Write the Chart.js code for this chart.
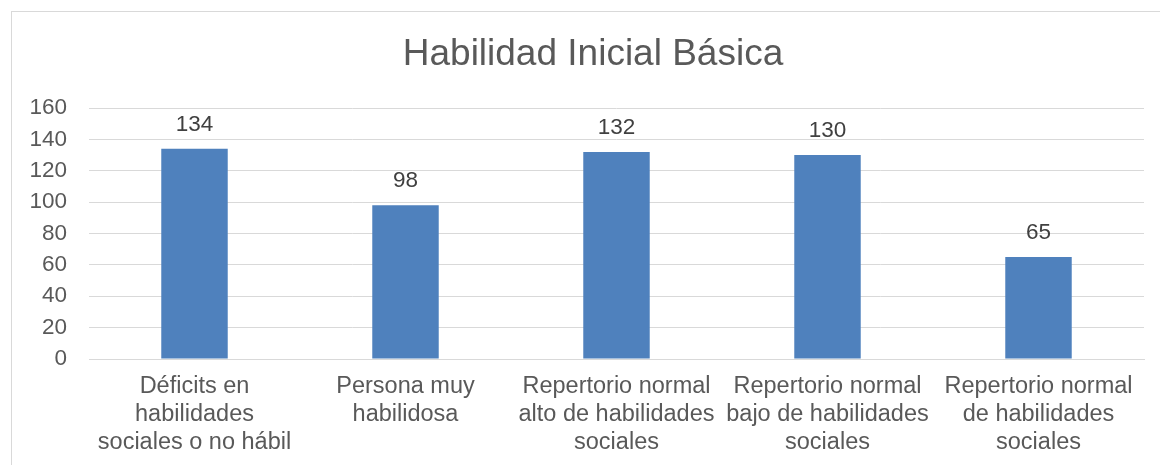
<!DOCTYPE html>
<html>
<head>
<meta charset="utf-8">
<script src="https://cdn.jsdelivr.net/npm/chart.js@4"></script>
<style>
  html, body { margin: 0; padding: 0; background: #fff; overflow: hidden; }
  #frame { position: absolute; left: 11px; top: 11px; width: 1200px; height: 500px; border: 1px solid #d9d9d9; }
  #wrap { position: absolute; left: 0; top: 0; width: 1160px; height: 465px; }
</style>
</head>
<body>
<div id="frame"></div>
<div id="wrap"><canvas id="chart" width="1160" height="465"></canvas></div>
<script>
const title = 'Habilidad Inicial Básica';
const categories = [
  ["Déficits en", "habilidades", "sociales o no hábil"],
  ["Persona muy", "habilidosa"],
  ["Repertorio normal", "alto de habilidades", "sociales"],
  ["Repertorio normal", "bajo de habilidades", "sociales"],
  ["Repertorio normal", "de habilidades", "sociales"]
];
const values = [134, 98, 132, 130, 65];
const yTicks = [0, 20, 40, 60, 80, 100, 120, 140, 160];

const font = "'Liberation Sans', Arial, sans-serif";

// title centred on the outer frame, not the canvas
const chartTitle = {
  id: 'chartTitle',
  afterDraw(chart) {
    const ctx = chart.ctx;
    ctx.save();
    ctx.font = "37px " + font;
    ctx.fillStyle = '#595959';
    ctx.textAlign = 'center';
    ctx.textBaseline = 'middle';
    ctx.fillText(title, 593, 55);
    ctx.restore();
  }
};

const barLabels = {
  id: 'barLabels',
  afterDatasetsDraw(chart) {
    const ctx = chart.ctx;
    const meta = chart.getDatasetMeta(0);
    ctx.save();
    ctx.font = "22.5px " + font;
    ctx.fillStyle = '#404040';
    ctx.textAlign = 'center';
    ctx.textBaseline = 'middle';
    meta.data.forEach((bar, i) => {
      ctx.fillText(String(values[i]), bar.x, bar.y - 24);
    });
    ctx.restore();
  }
};

new Chart(document.getElementById('chart'), {
  type: 'bar',
  data: {
    labels: categories,
    datasets: [{
      data: values,
      backgroundColor: '#4f81bd',
      borderWidth: 0,
      barPercentage: 0.63,
      categoryPercentage: 0.5
    }]
  },
  options: {
    responsive: false,
    animation: false,
    layout: { padding: { left: 0, right: 16, top: 108, bottom: 0 } },
    plugins: {
      legend: { display: false },
      tooltip: { enabled: false },
      title: { display: false }
    },
    scales: {
      x: {
        grid: { display: false, drawTicks: false },
        border: { display: true, color: '#d9d9d9' },
        ticks: {
          color: '#595959',
          font: { family: font, size: 23.5, lineHeight: 1.18 },
          padding: 14,
          maxRotation: 0,
          autoSkip: false
        },
        afterFit(scale) { scale.height = 106; }
      },
      y: {
        min: 0,
        max: 160,
        afterBuildTicks(scale) { scale.ticks = yTicks.map(v => ({ value: v })); },
        grid: { color: '#d9d9d9', drawTicks: false },
        border: { display: false },
        ticks: {
          color: '#595959',
          font: { family: font, size: 22.5 },
          padding: 22
        },
        afterFit(scale) { scale.width = 89; }
      }
    }
  },
  plugins: [barLabels, chartTitle]
});
</script>
</body>
</html>
